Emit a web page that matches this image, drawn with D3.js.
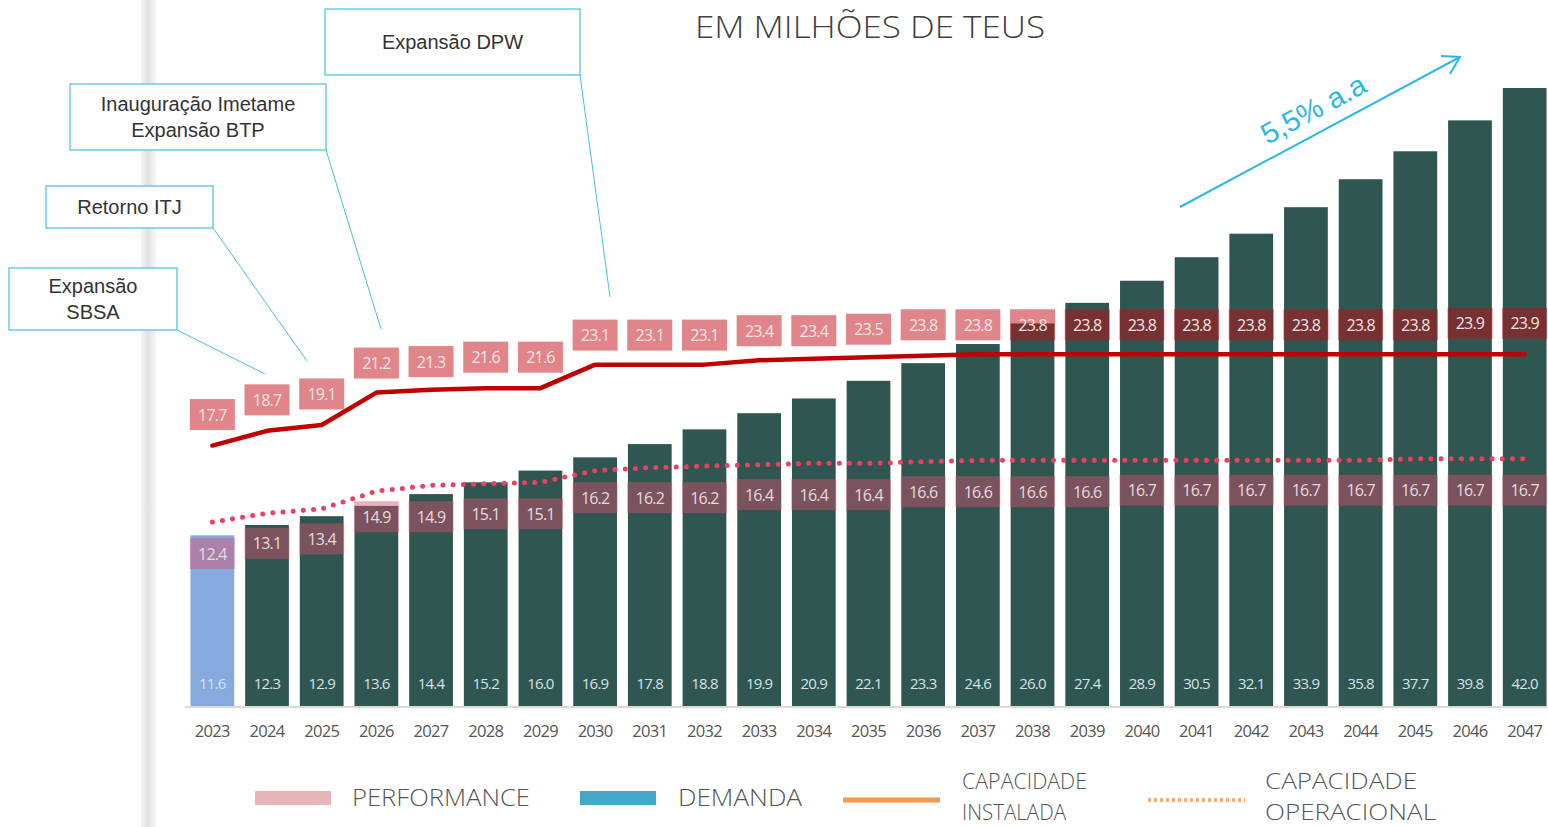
<!DOCTYPE html>
<html>
<head>
<meta charset="utf-8">
<script src="https://cdn.jsdelivr.net/npm/d3@7"></script>
<style>
  body { margin: 0; background: #fff; }
  svg { display: block; }
</style>
</head>
<body>
<div id="chart"></div>
<script>
// data (milhões de TEUs)
var years = ["2023","2024","2025","2026","2027","2028","2029","2030","2031","2032","2033","2034","2035",
             "2036","2037","2038","2039","2040","2041","2042","2043","2044","2045","2046","2047"];
var demanda = [11.6,12.3,12.9,13.6,14.4,15.2,16.0,16.9,17.8,18.8,19.9,20.9,22.1,
               23.3,24.6,26.0,27.4,28.9,30.5,32.1,33.9,35.8,37.7,39.8,42.0];
var performanceTop = [17.7,18.7,19.1,21.2,21.3,21.6,21.6,23.1,23.1,23.1,23.4,23.4,23.5,
                      23.8,23.8,23.8,23.8,23.8,23.8,23.8,23.8,23.8,23.8,23.9,23.9];
var performanceLow = [12.4,13.1,13.4,14.9,14.9,15.1,15.1,16.2,16.2,16.2,16.4,16.4,16.4,
                      16.6,16.6,16.6,16.6,16.7,16.7,16.7,16.7,16.7,16.7,16.7,16.7];
var capInstalada = [17.7,18.7,19.1,21.3,21.5,21.6,21.6,23.2,23.2,23.2,23.5,23.6,23.7,
                    23.8,23.9,23.9,23.9,23.9,23.9,23.9,23.9,23.9,23.9,23.9,23.9];
var capOperacional = [12.5,13.1,13.4,14.6,15.0,15.1,15.2,16.0,16.2,16.3,16.4,16.5,16.5,
                      16.6,16.7,16.7,16.7,16.7,16.7,16.7,16.7,16.7,16.8,16.8,16.8];
var legendItems = [["PERFORMANCE"],["DEMANDA"],["CAPACIDADE","INSTALADA"],["CAPACIDADE","OPERACIONAL"]];
var notes = [
  {lines:["Expansão DPW"], box:[325,9,580,75], to:[610,297]},
  {lines:["Inauguração Imetame","Expansão BTP"], box:[70,84,326,150], to:[381,329]},
  {lines:["Retorno ITJ"], box:[46,186,213,228], to:[307,361]},
  {lines:["Expansão","SBSA"], box:[9,268,177,330], to:[265,374]}
];

var W = 1548, H = 827;
var svg = d3.select("#chart").append("svg").attr("width", W).attr("height", H);

// grey page edge on the left
var grad = svg.append("defs").append("linearGradient").attr("id","edge");
grad.append("stop").attr("offset","0%").attr("stop-color","#f4f4f4");
grad.append("stop").attr("offset","45%").attr("stop-color","#e2e2e2");
grad.append("stop").attr("offset","100%").attr("stop-color","#f6f6f6");
svg.append("rect").attr("x",141).attr("y",0).attr("width",15).attr("height",H).attr("fill","url(#edge)");

var x = d3.scaleBand().domain(years).range([185, 1552]).paddingInner(0.2).paddingOuter(0.1);
var y = d3.scaleLinear().domain([0, 42]).range([706, 88]);
var cx = function(d, i) { return x(years[i]) + x.bandwidth()/2; };

// bars
svg.selectAll("rect.bar").data(demanda).enter().append("rect")
  .attr("class","bar")
  .attr("x", function(d,i){ return x(years[i]); })
  .attr("y", function(d){ return y(d); })
  .attr("width", x.bandwidth())
  .attr("height", function(d){ return y(0) - y(d); })
  .attr("fill", function(d,i){ return i == 0 ? "#86a9de" : "#2f5651"; });

// baseline + years
svg.append("line").attr("x1",185).attr("x2",1548).attr("y1",707).attr("y2",707)
  .attr("stroke","#d9d9d9").attr("stroke-width",2);
var xAxis = d3.axisBottom(x).tickSize(0).tickPadding(0);
var ax = svg.append("g").attr("transform","translate(0,721)").call(xAxis);
ax.select(".domain").remove();
ax.selectAll("text").attr("font-family","'Open Sans', sans-serif").attr("font-size",16.5)
  .attr("fill","#555").attr("dy","0.95em").attr("letter-spacing","-0.7");

// value labels inside bars
svg.selectAll("text.val").data(demanda).enter().append("text")
  .attr("class","val")
  .attr("x", cx).attr("y", 689)
  .attr("text-anchor","middle")
  .attr("font-family","'Open Sans', sans-serif").attr("font-size",15).attr("letter-spacing","-0.8")
  .attr("fill","#d8e0e8")
  .text(function(d){ return d.toFixed(1); });

// performance label boxes
function labelBoxes(data, cls, offset, fill, txt) {
  var g = svg.selectAll("g." + cls).data(data).enter().append("g")
    .attr("class", cls)
    .attr("transform", function(d,i){ return "translate(" + cx(d,i) + "," + (y(d) + offset) + ")"; });
  g.append("rect").attr("x",-22.5).attr("y",-15.5).attr("width",45).attr("height",31).attr("fill",fill);
  g.append("text").attr("text-anchor","middle").attr("y",6)
    .attr("font-family","'Open Sans', sans-serif").attr("font-size",16).attr("letter-spacing","-0.8")
    .attr("fill",txt)
    .text(function(d){ return d.toFixed(1); });
}
labelBoxes(performanceLow, "low", 30, "rgba(218,80,110,0.45)", "#e8dade");
labelBoxes(performanceTop, "top", -31, "rgba(193,12,20,0.5)", "#f6e6e6");

// capacity lines
var line = d3.line().x(cx).y(function(d){ return y(d); });
svg.append("path").datum(capOperacional).attr("d", line)
  .attr("fill","none").attr("stroke","#ec3f62").attr("stroke-width",5)
  .attr("stroke-linecap","round").attr("stroke-dasharray","0 10.2");
svg.append("path").datum(capInstalada).attr("d", line)
  .attr("fill","none").attr("stroke","#c00000").attr("stroke-width",4.5)
  .attr("stroke-linejoin","round").attr("stroke-linecap","round");

// title
svg.append("text").attr("x",870).attr("y",38).attr("text-anchor","middle")
  .attr("font-family","'Open Sans', sans-serif").attr("font-weight",300).attr("font-size",31)
  .attr("fill","#404040").attr("textLength",350).attr("lengthAdjust","spacingAndGlyphs")
  .text("EM MILHÕES DE TEUS");

// annotation call-outs
notes.forEach(function(n){
  var b = n.box;
  svg.append("line").attr("x1",b[2]).attr("y1",b[3]).attr("x2",n.to[0]).attr("y2",n.to[1])
    .attr("stroke","#45bfe6").attr("stroke-width",1);
  svg.append("rect").attr("x",b[0]).attr("y",b[1]).attr("width",b[2]-b[0]).attr("height",b[3]-b[1])
    .attr("fill","#fff").attr("stroke","#45bfe6").attr("stroke-width",1.2);
  var mid = (b[1] + b[3]) / 2, lh = 26;
  n.lines.forEach(function(t, k){
    svg.append("text").attr("x",(b[0]+b[2])/2)
      .attr("y", mid + (k - (n.lines.length-1)/2) * lh + 7)
      .attr("text-anchor","middle").attr("font-family","'Liberation Sans', Arial, sans-serif")
      .attr("font-size",20).attr("fill","#333").text(t);
  });
});

// growth arrow
var a0 = [1180,207], a1 = [1460,57];
svg.append("line").attr("x1",a0[0]).attr("y1",a0[1]).attr("x2",a1[0]).attr("y2",a1[1])
  .attr("stroke","#2db6e6").attr("stroke-width",2);
svg.append("path").attr("d","M1441,56 L1460,57 L1450,74").attr("fill","none")
  .attr("stroke","#2db6e6").attr("stroke-width",2);
svg.append("text").attr("transform","translate(1318,118) rotate(-28.2)")
  .attr("text-anchor","middle").attr("font-family","'Liberation Sans', Arial, sans-serif")
  .attr("font-size",29).attr("fill","#2db6e6").text("5,5% a.a");

// legend
var lg = svg.append("g").attr("font-family","'Open Sans', sans-serif")
  .attr("font-weight",300).attr("fill","#555");
lg.append("rect").attr("x",255).attr("y",791).attr("width",76).attr("height",14).attr("fill","#e8b5b9");
lg.append("rect").attr("x",580).attr("y",791).attr("width",76).attr("height",14).attr("fill","#45a8c6");
lg.append("line").attr("x1",843).attr("x2",940).attr("y1",800).attr("y2",800)
  .attr("stroke","#f39a4c").attr("stroke-width",5);
lg.append("line").attr("x1",1148).attr("x2",1245).attr("y1",800).attr("y2",800)
  .attr("stroke","#f7b07a").attr("stroke-width",4).attr("stroke-dasharray","3 3");
var lx = [352, 678, 962, 1265], lw = [[178],[124],[125,104],[152,171]];
legendItems.forEach(function(item, i){
  item.forEach(function(t, k){
    var yy = item.length == 1 ? 806 : 789 + k * 31;
    lg.append("text").attr("x",lx[i]).attr("y",yy)
      .attr("font-size", item.length == 1 ? 24 : 22)
      .attr("textLength",lw[i][k])
      .attr("lengthAdjust","spacingAndGlyphs").text(t);
  });
});
</script>
</body>
</html>
